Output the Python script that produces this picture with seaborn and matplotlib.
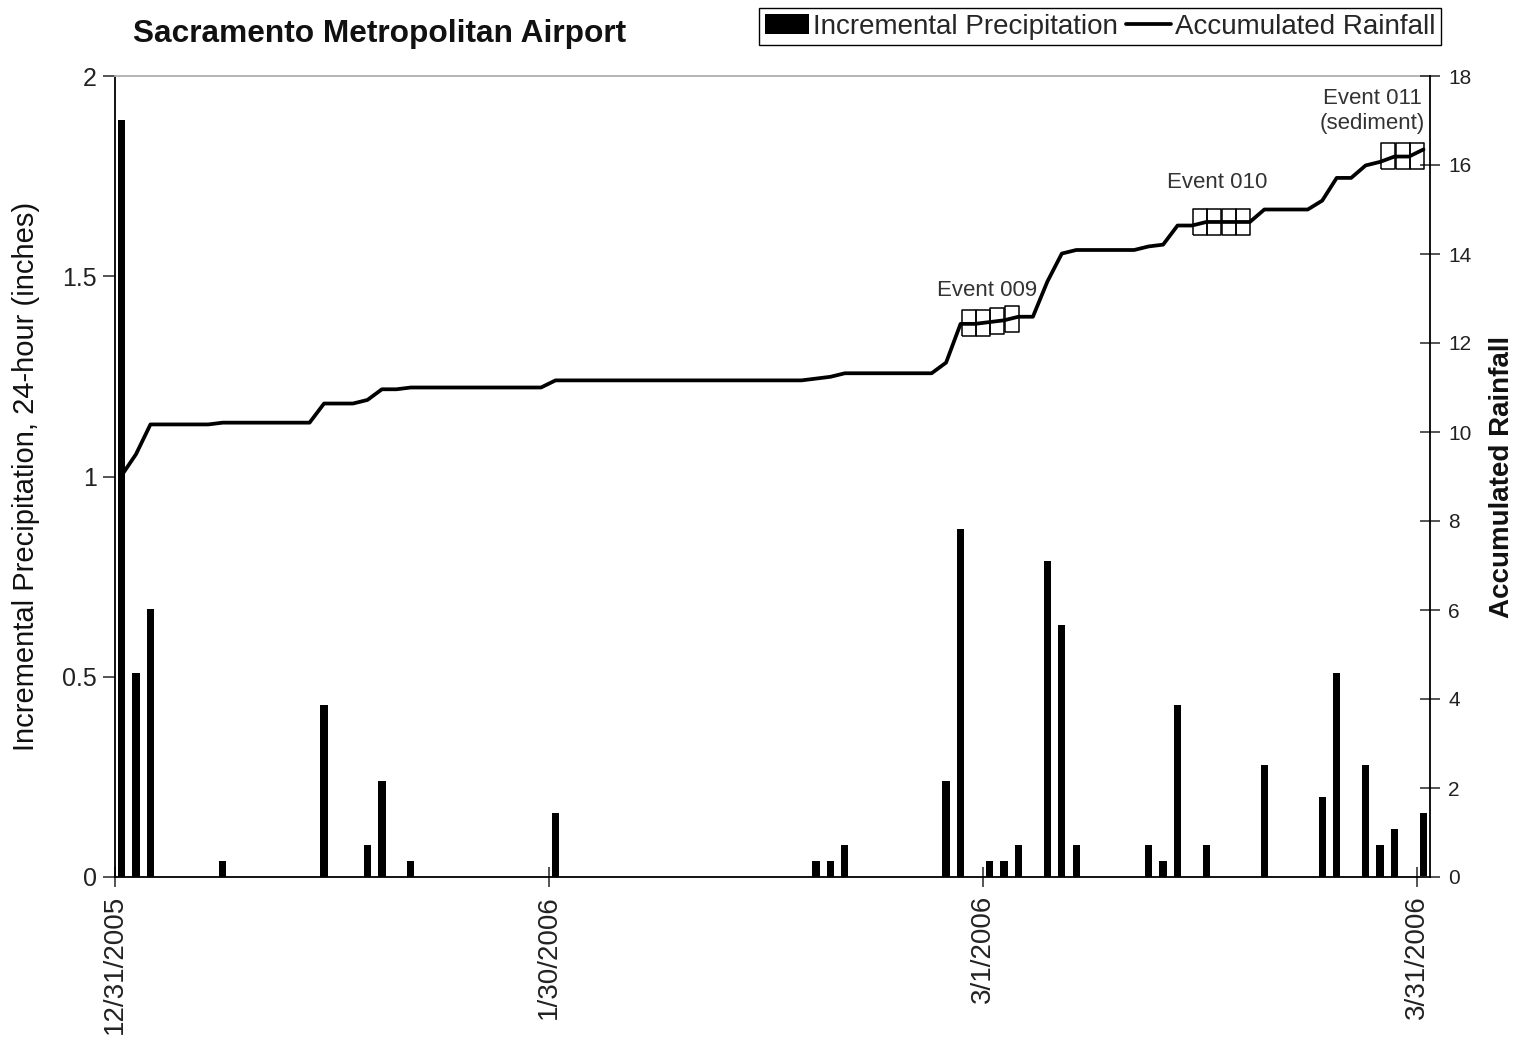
import numpy as np
import pandas as pd
import matplotlib
matplotlib.use("Agg")
import matplotlib.pyplot as plt
import seaborn as sns

# ---------------- data ----------------
title = "Sacramento Metropolitan Airport"
tick_days = [0, 30, 60, 90]
tick_labels = ["12/31/2005", "1/30/2006", "3/1/2006", "3/31/2006"]

# incremental precipitation (days after 12/31/2005, inches)
bar_days = [0, 1, 2, 7, 14, 17, 18, 20, 30, 48, 49, 50, 57, 58, 60, 61, 62,
            64, 65, 66, 71, 72, 73, 75, 79, 83, 84, 86, 87, 88, 90]
bar_vals = [1.89, 0.51, 0.67, 0.04, 0.43, 0.08, 0.24, 0.04, 0.16, 0.04, 0.04,
            0.08, 0.24, 0.87, 0.04, 0.04, 0.08, 0.79, 0.63, 0.08, 0.08, 0.04,
            0.43, 0.08, 0.28, 0.20, 0.51, 0.28, 0.08, 0.12, 0.16]

# accumulated rainfall, one value per day (day 0 .. 90)
acc_days = list(range(91))
acc_vals = [
    9.02, 9.50, 10.17, 10.17, 10.17, 10.17, 10.17, 10.21, 10.21, 10.21,
    10.21, 10.21, 10.21, 10.21, 10.64, 10.64, 10.64, 10.72, 10.96, 10.96,
    11.00, 11.00, 11.00, 11.00, 11.00, 11.00, 11.00, 11.00, 11.00, 11.00,
    11.16, 11.16, 11.16, 11.16, 11.16, 11.16, 11.16, 11.16, 11.16, 11.16,
    11.16, 11.16, 11.16, 11.16, 11.16, 11.16, 11.16, 11.16, 11.20, 11.24,
    11.32, 11.32, 11.32, 11.32, 11.32, 11.32, 11.32, 11.56, 12.43, 12.43,
    12.47, 12.51, 12.59, 12.59, 13.38, 14.01, 14.09, 14.09, 14.09, 14.09,
    14.09, 14.17, 14.21, 14.64, 14.64, 14.72, 14.72, 14.72, 14.72, 15.00,
    15.00, 15.00, 15.00, 15.20, 15.71, 15.71, 15.99, 16.07, 16.19, 16.19,
    16.35,
]

# sampling event markers
ev_days = [59, 60, 61, 62, 75, 76, 77, 78, 88, 89, 90]
ev_vals = [12.44, 12.45, 12.49, 12.53, 14.73, 14.73, 14.73, 14.73, 16.21, 16.21, 16.21]
ev_labels = ["Event 009", "Event 010", "Event 011\n(sediment)"]
ev_label_x = [60.3, 76.2, 86.9]
ev_label_y = [13.19, 15.60, 17.22]

# ---------------- style ----------------
sns.set_theme(style="white")
plt.rcParams["font.family"] = ["Liberation Sans", "DejaVu Sans"]

W, H = 1520, 1038
fig = plt.figure(figsize=(W / 100, H / 100), dpi=100)
L, R, T, B = 115, 1430, 76, 877
ax = fig.add_axes([L / W, 1 - B / H, (R - L) / W, (B - T) / H])
ax2 = ax.twinx()

OFF = 0.45  # bars/line drawn slightly right of the date tick

df_bar = pd.DataFrame({"day": np.array(bar_days) + OFF, "precip": bar_vals})
sns.barplot(data=df_bar, x="day", y="precip", native_scale=True, width=0.5,
            color="black", saturation=1, errorbar=None, linewidth=0,
            ax=ax, label="Incremental Precipitation")

df_acc = pd.DataFrame({"day": np.array(acc_days) + OFF, "acc": acc_vals})
sns.lineplot(data=df_acc, x="day", y="acc", color="black", linewidth=2.7,
             ax=ax2, label="Accumulated Rainfall", zorder=3)

rect = [(-0.27, -0.5), (0.27, -0.5), (0.27, 0.5), (-0.27, 0.5), (-0.27, -0.5)]
df_ev = pd.DataFrame({"day": ev_days, "acc": ev_vals})
sns.lineplot(data=df_ev, x="day", y="acc", marker=rect, markersize=19,
             markerfacecolor="none", markeredgecolor="black",
             markeredgewidth=1.1, linestyle="none", ax=ax2, zorder=4,
             legend=False)

for lab, x, y in zip(ev_labels, ev_label_x, ev_label_y):
    ax2.text(x, y, lab, ha="center", va="center", fontsize=16,
             color="#333333", linespacing=1.25)

# axes limits / ticks
ax.set_xlim(0, 90.9)
ax.set_ylim(0, 2)
ax2.set_ylim(0, 18)
ax.set_xticks(tick_days)
ax.set_xticklabels(tick_labels, rotation=90, fontsize=20, color="#222222")
ax.set_yticks([0, 0.5, 1, 1.5, 2])
ax.set_yticklabels(["0", "0.5", "1", "1.5", "2"], fontsize=18, color="#222222")
ax2.set_yticks(range(0, 19, 2))
ax2.set_yticklabels([str(v) for v in range(0, 19, 2)], fontsize=15, color="#222222")

ax.tick_params(axis="y", direction="out", length=9, width=1.1, pad=4, left=True)
ax.tick_params(axis="x", direction="inout", length=14, width=1.1, pad=6, bottom=True)
ax2.tick_params(axis="y", direction="inout", length=14, width=1.1, pad=6, right=True)

ax.set_xlabel("")
ax.set_ylabel("Incremental Precipitation, 24-hour (inches)", fontsize=21, color="#111111")
ax.yaxis.set_label_coords(-0.057, 0.5)
ax2.set_ylabel("Accumulated Rainfall", fontsize=20, fontweight="bold", color="#111111")
ax2.yaxis.set_label_coords(1.045, 0.5)

for a in (ax, ax2):
    for s in a.spines.values():
        s.set_visible(False)
ax.spines["left"].set_visible(True)
ax.spines["bottom"].set_visible(True)
ax.spines["top"].set_visible(True)
ax2.spines["right"].set_visible(True)
for s in ("left", "bottom"):
    ax.spines[s].set_color("black")
    ax.spines[s].set_linewidth(1.3)
ax.spines["top"].set_color("#b0b0b0")
ax.spines["top"].set_linewidth(1.3)
ax2.spines["right"].set_color("black")
ax2.spines["right"].set_linewidth(1.3)

# title
fig.text(133 / W, 1 - 34 / H, title, ha="left", va="center", fontsize=22.8,
         fontweight="bold", color="#111111")

# legend
h1, l1 = ax.get_legend_handles_labels()
h2, l2 = ax2.get_legend_handles_labels()
for a in (ax, ax2):
    if a.get_legend() is not None:
        a.get_legend().remove()
leg = fig.legend(h1 + h2, l1 + l2, loc="upper right",
                 bbox_to_anchor=(1441 / W, 1 - 8 / H), ncol=2, frameon=True,
                 fancybox=False, edgecolor="black", framealpha=1, fontsize=20,
                 handlelength=1.6, handletextpad=0.15, columnspacing=0.3,
                 borderpad=0.2, borderaxespad=0)
leg.get_frame().set_linewidth(1.0)

fig.savefig("out.png", dpi=100, facecolor="white")
